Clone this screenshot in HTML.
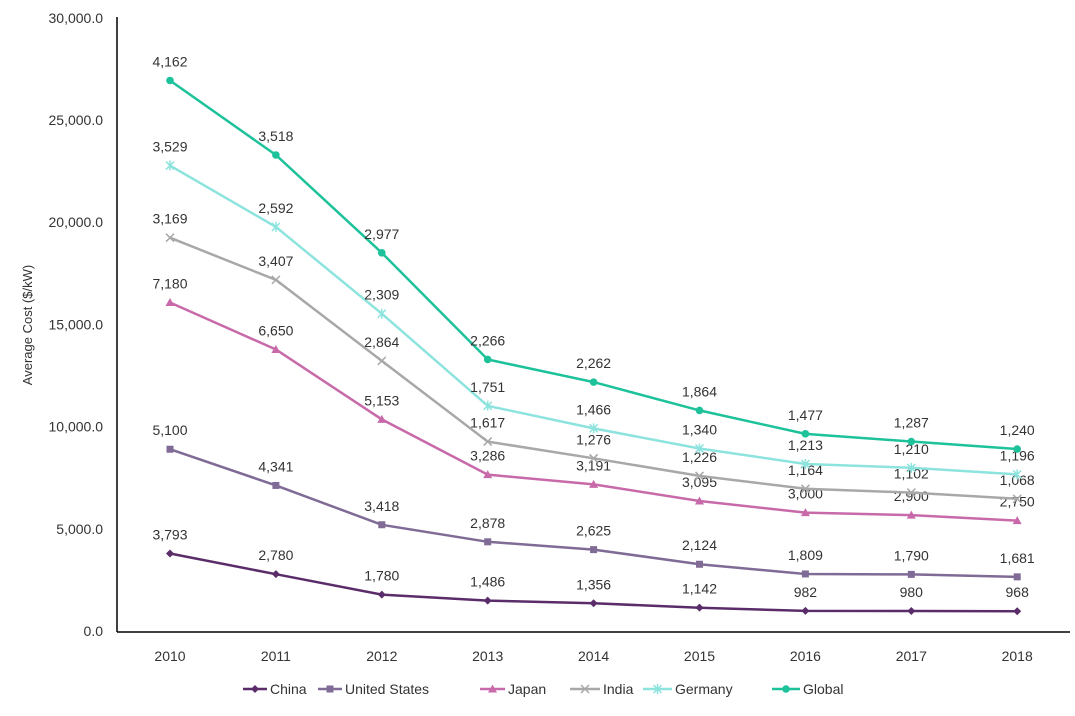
<!DOCTYPE html>
<html><head><meta charset="utf-8"><style>
body{margin:0;background:#fff}
svg text{font-family:"Liberation Sans",sans-serif;fill:#333}
</style></head><body>
<svg id="c" width="1075" height="711" xmlns="http://www.w3.org/2000/svg">
<line x1="117" y1="17" x2="117" y2="632" stroke="#000" stroke-width="1.5"/>
<line x1="117" y1="632" x2="1070" y2="632" stroke="#000" stroke-width="1.5"/>
<text x="0" y="0" transform="translate(32,325) rotate(-90)" text-anchor="middle" font-size="13">Average Cost ($/kW)</text>
</svg>
<script>
var s=document.getElementById('c'),ns='http://www.w3.org/2000/svg';
function el(t,a,txt){var e=document.createElementNS(ns,t);for(var k in a)e.setAttribute(k,a[k]);if(txt!=null)e.textContent=txt;s.appendChild(e);return e;}
function Y(v){return 631-v*0.02044;}
function X(i){return 170+i*105.9;}
for(var v=0;v<=30000;v+=5000)el('text',{x:103,y:Y(v)+5,'text-anchor':'end','font-size':14},v.toLocaleString('en-US')+'.0');
for(var i=0;i<9;i++)el('text',{x:X(i),y:661,'text-anchor':'middle','font-size':14},2010+i);
var data=[
[3793,2780,1780,1486,1356,1142,982,980,968],
[5100,4341,3418,2878,2625,2124,1809,1790,1681],
[7180,6650,5153,3286,3191,3095,3000,2900,2750],
[3169,3407,2864,1617,1276,1226,1164,1102,1068],
[3529,2592,2309,1751,1466,1340,1213,1210,1196],
[4162,3518,2977,2266,2262,1864,1477,1287,1240]];
var cols=['#5a2d6a','#7f6b95','#c86aa9','#a8a8a8','#8de3dd','#1dc29a'];
var names=['China','United States','Japan','India','Germany','Global'];
var cum=[0,0,0,0,0,0,0,0,0];
function marker(k,x,y){var c=cols[k];
if(k==0)el('path',{d:'M'+x+' '+(y-4)+'L'+(x+4)+' '+y+'L'+x+' '+(y+4)+'L'+(x-4)+' '+y+'Z',fill:c});
else if(k==1)el('rect',{x:x-3.5,y:y-3.5,width:7,height:7,fill:c});
else if(k==2)el('path',{d:'M'+x+' '+(y-4.5)+'L'+(x+4.5)+' '+(y+3.5)+'L'+(x-4.5)+' '+(y+3.5)+'Z',fill:c});
else if(k==3)el('path',{d:'M'+(x-4)+' '+(y-4)+'L'+(x+4)+' '+(y+4)+'M'+(x+4)+' '+(y-4)+'L'+(x-4)+' '+(y+4),stroke:c,'stroke-width':1.5});
else if(k==4)el('path',{d:'M'+(x-4)+' '+(y-4)+'L'+(x+4)+' '+(y+4)+'M'+(x+4)+' '+(y-4)+'L'+(x-4)+' '+(y+4)+'M'+x+' '+(y-5)+'L'+x+' '+(y+5),stroke:c,'stroke-width':1.5});
else el('circle',{cx:x,cy:y,r:3.8,fill:c});}
for(var k=0;k<6;k++){var pts=[];
for(var i=0;i<9;i++){cum[i]+=data[k][i];pts.push(X(i)+','+Y(cum[i]).toFixed(1));}
el('polyline',{points:pts.join(' '),fill:'none',stroke:cols[k],'stroke-width':2.5});
for(var i=0;i<9;i++){var x=X(i),y=Y(cum[i]);marker(k,x,y);
el('text',{x:x,y:y-14,'text-anchor':'middle','font-size':14},data[k][i].toLocaleString('en-US'));}}
var lx=[[243,270],[318,345],[480,508],[570,603],[643,675],[772,803]];
for(var k=0;k<6;k++){var a=lx[k][0],b=lx[k][1]-3;
el('line',{x1:a,y1:689,x2:b,y2:689,stroke:cols[k],'stroke-width':2.5});
marker(k,(a+b)/2,689);
el('text',{x:lx[k][1],y:694,'font-size':14},names[k]);}
</script>
</body></html>
